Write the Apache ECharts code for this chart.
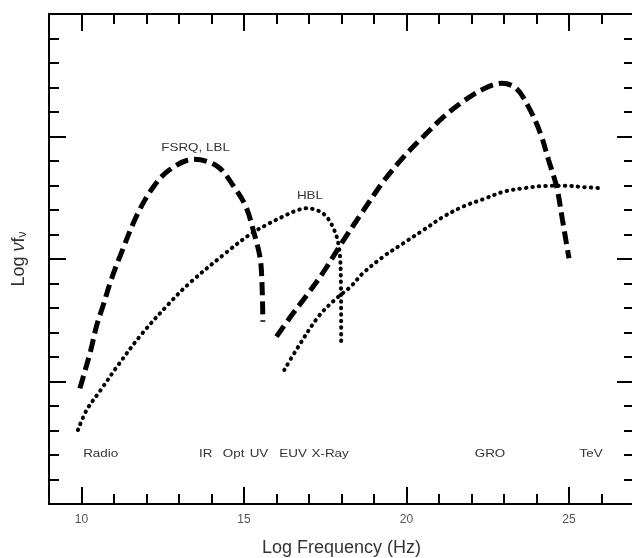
<!DOCTYPE html>
<html>
<head>
<meta charset="utf-8">
<script src="https://cdn.jsdelivr.net/npm/echarts@6/dist/echarts.min.js"></script>
<style>
  html, body { margin: 0; padding: 0; background: #fff; }
  #chart { width: 632px; height: 558px; }
</style>
</head>
<body>
<div id="chart"></div>
<script>
// Blazar spectral energy distributions: log(nu f_nu) against log frequency.
// FSRQ / LBL: synchrotron hump and inverse-Compton hump (dashed)
const fsrqSyncX = [9.95, 10.10, 10.28, 10.47, 10.66, 10.91, 11.22, 11.71, 12.20, 12.70, 13.45, 14.19, 14.69, 15.06, 15.31, 15.49, 15.55, 15.58];
const fsrqSyncY = [4.72, 5.40, 6.25, 7.30, 8.08, 9.14, 10.23, 11.80, 12.92, 13.63, 14.07, 13.77, 12.95, 12.13, 11.05, 10.09, 9.14, 7.44];
const fsrqCompX = [16.00, 16.42, 16.92, 17.42, 18.04, 18.66, 19.28, 19.90, 20.52, 21.14, 21.76, 22.38, 22.94, 23.37, 23.75, 24.12, 24.37, 24.62, 24.80, 24.92, 25.00];
const fsrqCompY = [6.83, 7.62, 8.50, 9.42, 10.72, 11.95, 13.15, 14.15, 15.00, 15.80, 16.45, 16.95, 17.17, 16.97, 16.22, 15.13, 14.04, 12.95, 11.59, 10.64, 10.03];

// HBL: synchrotron hump and inverse-Compton hump (dotted)
const hblSyncX = [9.89, 10.16, 10.59, 11.09, 11.83, 12.70, 13.32, 14.44, 15.18, 15.70, 16.18, 16.60, 16.92, 17.42, 17.73, 17.92, 17.98, 17.99];
const hblSyncY = [3.02, 3.84, 4.65, 5.60, 6.90, 8.19, 9.01, 10.25, 11.00, 11.40, 11.72, 11.97, 12.07, 11.87, 11.32, 10.50, 9.14, 6.56];
const hblCompX = [16.24, 16.67, 17.29, 17.79, 18.28, 18.66, 19.28, 19.90, 20.52, 21.14, 21.76, 22.38, 23.00, 23.62, 24.25, 24.86, 25.49, 25.98];
const hblCompY = [5.47, 6.42, 7.65, 8.33, 8.87, 9.42, 10.09, 10.64, 11.18, 11.73, 12.15, 12.45, 12.75, 12.89, 12.98, 12.99, 12.93, 12.89];

// Axis ranges and tick values
const xMin = 9, xMax = 27;
const yMin = 0, yMax = 20;
const xMajorTicks = [10, 15, 20, 25];

// Curve names placed in the plot
const curveNames = ['FSRQ, LBL', 'HBL'];
const curveNameX = [13.51, 17.03];
const curveNameY = [14.53, 12.57];

// Spectral band names along the bottom
const bandNames = ['Radio', 'IR', 'Opt', 'UV', 'EUV', 'X-Ray', 'GRO', 'TeV'];
const bandX = [10.59, 13.82, 14.68, 15.46, 16.51, 17.65, 22.57, 25.68];
const bandY = 2.05;

const FONT = '"Liberation Sans", Arial, Helvetica, sans-serif';
const INK = '#000';
const TEXT = '#333';

function zip(xs, ys) { return xs.map((x, i) => [x, ys[i]]); }

const dashed = { color: INK, width: 5, type: [13, 6], cap: 'butt' };
const dotted = { color: INK, width: 4, type: [0.5, 6], cap: 'round' };

function xAxisPair(position, withLabels) {
  const tickStyle = { color: INK, width: 2 };
  const minor = {
    type: 'value', position: position, min: xMin, max: xMax, interval: 1,
    axisLine: { show: true, onZero: false, lineStyle: { color: INK, width: 2 } },
    axisTick: { show: true, inside: true, length: 10, lineStyle: tickStyle },
    axisLabel: { show: false },
    splitLine: { show: false }
  };
  const major = {
    type: 'value', position: position, min: xMin, max: xMax,
    axisLine: { show: false, onZero: false },
    axisTick: { show: true, inside: true, length: 17, customValues: xMajorTicks, lineStyle: tickStyle },
    axisLabel: withLabels
      ? { show: true, customValues: xMajorTicks, fontSize: 12, color: '#555', margin: 10, fontFamily: FONT }
      : { show: false },
    splitLine: { show: false }
  };
  if (withLabels) {
    major.name = 'Log Frequency (Hz)';
    major.nameLocation = 'middle';
    major.nameGap = 35;
    major.nameTextStyle = { fontSize: 18, color: TEXT, fontFamily: FONT };
  }
  return [minor, major];
}

function yAxisSide(position, withName) {
  const ax = {
    type: 'value', position: position, min: yMin, max: yMax, interval: 5,
    axisLine: { show: true, onZero: false, lineStyle: { color: INK, width: 2 } },
    axisTick: { show: true, inside: true, length: 17, lineStyle: { color: INK, width: 2 } },
    minorTick: { show: true, splitNumber: 5, length: 10, lineStyle: { color: INK, width: 2 } },
    axisLabel: { show: false },
    splitLine: { show: false }
  };
  if (withName) {
    ax.name = '{a|Log }{i|ν}{a|f}{s|ν}';
    ax.nameLocation = 'middle';
    ax.nameGap = 20;
    ax.nameTextStyle = {
      color: TEXT, fontFamily: FONT, fontSize: 18,
      rich: {
        a: { fontSize: 18, color: TEXT, fontFamily: FONT },
        i: { fontSize: 18, color: TEXT, fontFamily: FONT, fontStyle: 'italic' },
        s: { fontSize: 12, color: TEXT, fontFamily: FONT, padding: [8, 0, 0, 0] }
      }
    };
  }
  return ax;
}

const chart = echarts.init(document.getElementById('chart'), null, { renderer: 'canvas' });

const option = {
  animation: false,
  backgroundColor: '#fff',
  // the plot frame runs slightly past the right edge of the canvas
  grid: { left: 49, top: 14, width: 585, height: 490, containLabel: false, outerBoundsMode: 'none' },
  xAxis: [].concat(xAxisPair('bottom', true), xAxisPair('top', false)),
  yAxis: [yAxisSide('left', true), yAxisSide('right', false)],
  series: [
    { name: 'FSRQ, LBL synchrotron', type: 'line', data: zip(fsrqSyncX, fsrqSyncY), showSymbol: false, smooth: 0.35, lineStyle: dashed },
    { name: 'FSRQ, LBL Compton', type: 'line', data: zip(fsrqCompX, fsrqCompY), showSymbol: false, smooth: 0.35, lineStyle: dashed },
    { name: 'HBL synchrotron', type: 'line', data: zip(hblSyncX, hblSyncY), showSymbol: false, smooth: 0.35, lineStyle: dotted },
    { name: 'HBL Compton', type: 'line', data: zip(hblCompX, hblCompY), showSymbol: false, smooth: 0.35, lineStyle: dotted }
  ]
};

chart.setOption(option);

// Text annotations, positioned through the axis scales and slightly widened
function textAt(text, x, y) {
  const p = chart.convertToPixel({ xAxisIndex: 0, yAxisIndex: 0 }, [x, y]);
  return {
    type: 'text', x: p[0], y: p[1], scaleX: 1.22, silent: true,
    style: { text: text, x: 0, y: 0, font: '11px ' + FONT, fill: TEXT, align: 'center', verticalAlign: 'middle' }
  };
}

const labels = [];
curveNames.forEach((t, i) => labels.push(textAt(t, curveNameX[i], curveNameY[i])));
bandNames.forEach((t, i) => labels.push(textAt(t, bandX[i], bandY)));
chart.setOption({ graphic: labels });
</script>
</body>
</html>
